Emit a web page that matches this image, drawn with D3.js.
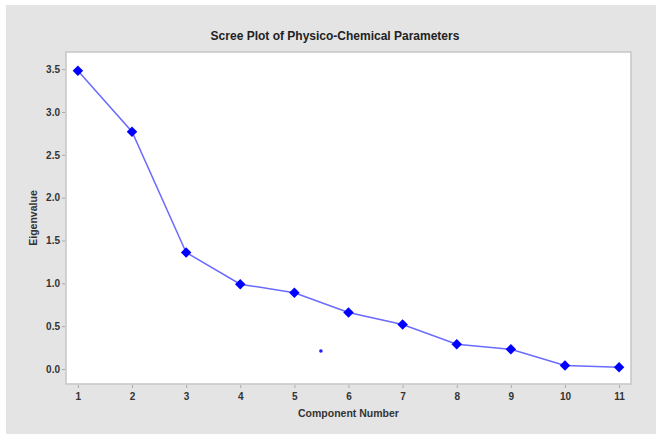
<!DOCTYPE html>
<html><head><meta charset="utf-8">
<script src="https://cdn.jsdelivr.net/npm/d3@7"></script>
<style>body{margin:0;background:#fff;}svg{display:block;}</style>
</head><body>
<script>
const components = [1,2,3,4,5,6,7,8,9,10,11];
const eigenvalues = [3.48,2.77,1.36,0.99,0.89,0.66,0.52,0.29,0.23,0.04,0.02];
const strayPoint = [{x:5.49, y:0.21}];
const yTicks = [0.0,0.5,1.0,1.5,2.0,2.5,3.0,3.5];
const title = "Scree Plot of Physico-Chemical Parameters";
const xTitle = "Component Number";
const yTitle = "Eigenvalue";

const W=656,H=434;
const svg=d3.select("body").append("svg").attr("width",W).attr("height",H);
svg.append("rect").attr("x",6).attr("y",5).attr("width",W-6).attr("height",H-5).attr("fill","#e4e4e4");
const L=66,T=52,R=631,B=384;
const x=d3.scaleLinear().domain([0.78,11.22]).range([L,R]);
const y=d3.scaleLinear().domain([-0.175,3.70]).range([B,T]);
svg.append("rect").attr("x",L).attr("y",T).attr("width",R-L).attr("height",B-T)
  .attr("fill","#fff").attr("stroke","#c9c9c9").attr("stroke-width",1.6);

const font="'Liberation Sans', Arial, sans-serif";
const yAxis=svg.append("g").attr("transform",`translate(${L-1},0)`)
  .call(d3.axisLeft(y).tickValues(yTicks).tickFormat(d3.format(".1f")).tickSize(3).tickPadding(2));
const xAxis=svg.append("g").attr("transform",`translate(0,${B+1})`)
  .call(d3.axisBottom(x).tickValues(components).tickFormat(d3.format("d")).tickSize(3).tickPadding(5));
[yAxis,xAxis].forEach(a=>{
  a.select(".domain").remove();
  a.selectAll(".tick line").attr("stroke","#aaa");
  a.selectAll(".tick text").attr("fill","#333").style("font-family",font).style("font-size","10px").style("font-weight","bold");
});

svg.append("text").attr("x",335).attr("y",40).attr("text-anchor","middle")
  .style("font-family",font).style("font-size","12px").style("font-weight","bold").attr("fill","#222").text(title);
svg.append("text").attr("x",(L+R)/2).attr("y",417).attr("text-anchor","middle")
  .style("font-family",font).style("font-size","10.5px").style("font-weight","bold").attr("fill","#333").text(xTitle);
svg.append("text").attr("transform",`translate(37,${(T+B)/2}) rotate(-90)`).attr("text-anchor","middle")
  .style("font-family",font).style("font-size","10.5px").style("font-weight","bold").attr("fill","#333").text(yTitle);

const data=components.map((c,i)=>({x:c,y:eigenvalues[i]}));
svg.append("path").datum(data).attr("fill","none").attr("stroke","#6a6aff").attr("stroke-width",1.5)
  .attr("d",d3.line().x(d=>x(d.x)).y(d=>y(d.y)));
svg.selectAll(".pt").data(data).enter().append("path").attr("class","pt")
  .attr("transform",d=>`translate(${x(d.x)},${y(d.y)})`)
  .attr("d",d3.symbol().type(d3.symbolDiamond2).size(70)).attr("fill","#0000ff");
svg.selectAll(".stray").data(strayPoint).enter().append("circle").attr("class","stray")
  .attr("cx",d=>x(d.x)).attr("cy",d=>y(d.y)).attr("r",1.8).attr("fill","#2020ff");
</script>
</body></html>
